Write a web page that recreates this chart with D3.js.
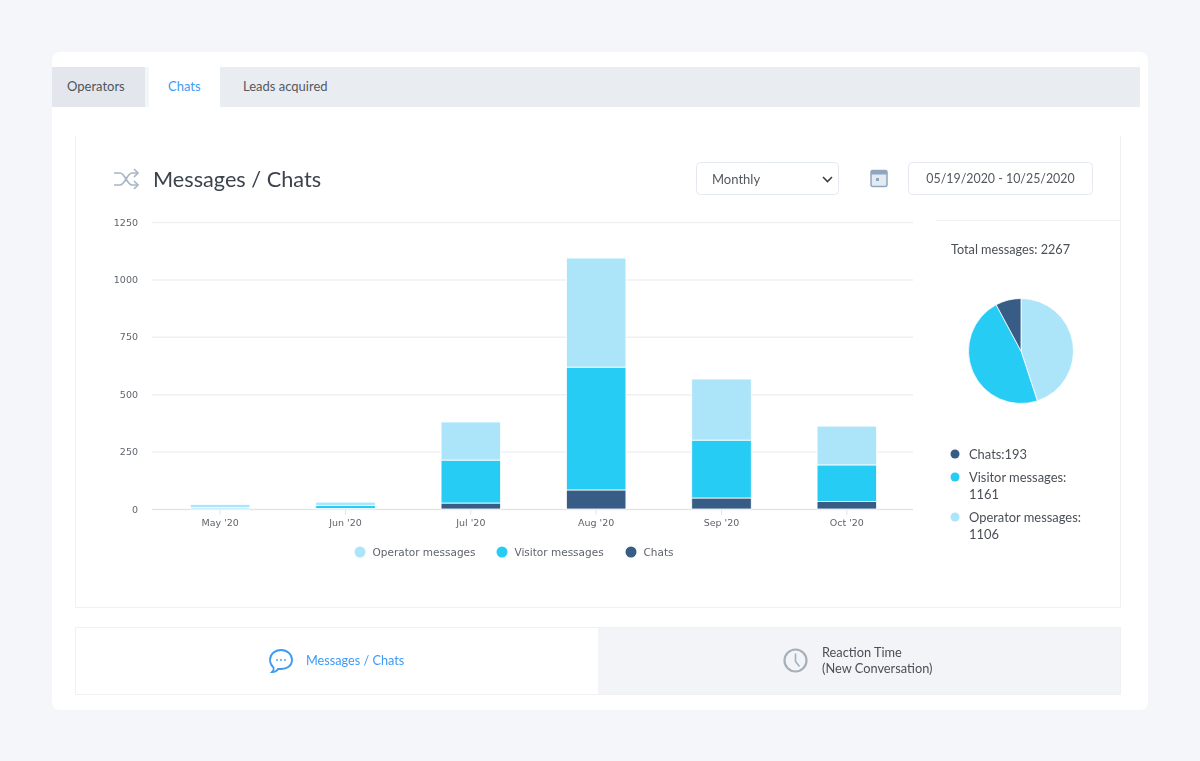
<!DOCTYPE html>
<html>
<head>
<meta charset="utf-8">
<script src="https://cdn.jsdelivr.net/npm/d3@7"></script>
<style>
  html, body { margin: 0; padding: 0; background: #f5f6f9; overflow: hidden; }
  svg { display: block; filter: blur(0.45px); }
  text { font-family: Lato, sans-serif; fill: #4a4f57; }
  .tick text { font-family: "DejaVu Sans", sans-serif; font-size: 9.5px; fill: #5f646c; }
  .chart-legend text { font-family: "DejaVu Sans", sans-serif; font-size: 10.5px; fill: #5f646c; }
  .domain { display: none; }
  .y-axis .tick line { stroke: #eef0f4; stroke-width: 1.5; }
  .x-axis .tick line { stroke: #dfe5f0; }
</style>
</head>
<body>
<svg id="chart" width="1200" height="761"></svg>
<script>
const months = ["May '20", "Jun '20", "Jul '20", "Aug '20", "Sep '20", "Oct '20"];
const chats = [1, 2, 26, 83, 48, 33];
const visitorMessages = [5, 14, 187, 535, 252, 159];
const operatorMessages = [14, 14, 166, 475, 266, 169];
const yTicks = [0, 250, 500, 750, 1000, 1250];

const seriesNames = ["Chats", "Visitor messages", "Operator messages"];
const seriesColors = ["#375c85", "#26ccf4", "#ace5fa"];
const chartLegendOrder = [2, 1, 0];
const pieTotals = [1106, 1161, 193];
const pieColors = ["#ace5fa", "#26ccf4", "#375c85"];

const svg = d3.select("#chart");
const blue = "#3d9bf5";

function box(x, y, w, h, fill, stroke, r) {
    return svg.append("rect").attr("x", x).attr("y", y).attr("width", w).attr("height", h)
        .attr("fill", fill).attr("stroke", stroke || "none").attr("rx", r || 0);
}
function label(x, y, str, size, color, anchor) {
    return svg.append("text").attr("x", x).attr("y", y).attr("dy", "0.35em").text(str)
        .style("font-size", size + "px").style("fill", color || "#4a4f57")
        .attr("text-anchor", anchor || "start");
}

// page card + tabs
box(52, 52, 1096, 658, "#fff", null, 8);
box(52, 67, 1088, 40, "#e9edf2");
box(52, 67, 93, 40, "#e3e7ed");
box(145, 67, 4, 40, "#f3f5f8");
box(149, 67, 71, 41, "#fff");
label(67, 86, "Operators", 13, "#4f545b");
label(168, 86, "Chats", 13, blue);
label(243, 86, "Leads acquired", 13, "#55595f");

// panel
svg.append("path").attr("d", "M75.5 136V607.5H1120.5V136").attr("fill", "none").attr("stroke", "#eff1f4");
svg.append("line").attr("x1", 936).attr("x2", 1121).attr("y1", 220.5).attr("y2", 220.5).attr("stroke", "#eff1f4");

// header
const shuffle = svg.append("g").attr("transform", "translate(114,171)")
    .attr("fill", "none").attr("stroke", "#aab6c4").attr("stroke-width", 1.7);
shuffle.append("path").attr("d", "M0 2H6C11 2 13 14 18 14H24M0 14H6C11 14 13 2 18 2H24");
shuffle.append("path").attr("d", "M20 -2L24 2L20 6M20 10L24 14L20 18");
label(153, 179, "Messages / Chats", 21.7, "#3d434b");

box(696.5, 162.5, 142, 32, "#fff", "#e4e9f1", 4);
label(712, 179, "Monthly", 13, "#54585f");
svg.append("path").attr("d", "M823 177L827.5 181.5L832 177").attr("fill", "none")
    .attr("stroke", "#3a3f46").attr("stroke-width", 1.6);

const cal = svg.append("g").attr("transform", "translate(871,169)");
cal.append("rect").attr("y", 1.5).attr("width", 16).attr("height", 16).attr("rx", 2)
    .attr("fill", "#e3eaf2").attr("stroke", "#8fa6bf").attr("stroke-width", 1.5);
cal.append("rect").attr("y", 1.5).attr("width", 16).attr("height", 4).attr("fill", "#8fa6bf");
cal.append("rect").attr("x", 5).attr("y", 9).attr("width", 3).attr("height", 3).attr("fill", "#8fa6bf");

box(908.5, 162.5, 184, 32, "#fff", "#e4e9f1", 4);
label(1000.5, 179, "05/19/2020 - 10/25/2020", 12.4, "#54585f", "middle");

// bars
const x = d3.scaleBand().domain(months).range([157.5, 909.5]).paddingInner(0.525).paddingOuter(0.2625);
const y = d3.scaleLinear().domain([0, 1250]).range([509, 222]);

svg.append("g").attr("class", "y-axis").attr("transform", "translate(152,0)")
    .call(d3.axisLeft(y).tickValues(yTicks).tickSize(-761).tickPadding(14).tickFormat(d3.format("d")));

svg.append("g").attr("class", "x-axis").attr("transform", "translate(0,509)")
    .call(d3.axisBottom(x).tickSize(6).tickPadding(4));
svg.append("line").attr("x1", 152).attr("x2", 913).attr("y1", 509.5).attr("y2", 509.5).attr("stroke", "#dce3f1");

const rows = months.map((m, i) => ({ month: m, 0: chats[i], 1: visitorMessages[i], 2: operatorMessages[i] }));
const stacked = d3.stack().keys([0, 1, 2])(rows);

svg.append("g").selectAll("g").data(stacked).join("g")
    .attr("fill", d => seriesColors[d.key])
    .selectAll("rect").data(d => d).join("rect")
    .attr("x", d => x(d.data.month))
    .attr("y", d => y(d[1]))
    .attr("width", x.bandwidth())
    .attr("height", d => y(d[0]) - y(d[1]))
    .attr("stroke", "#fff").attr("stroke-width", 0.8);

// chart legend
const legendX = [360, 502, 631];
const legend = svg.append("g").attr("class", "chart-legend").selectAll("g").data(chartLegendOrder).join("g")
    .attr("transform", (d, i) => `translate(${legendX[i]},552)`);
legend.append("circle").attr("r", 5.5).attr("fill", d => seriesColors[d]);
legend.append("text").attr("x", 12.5).attr("dy", "0.35em").text(d => seriesNames[d]);

// pie
label(951, 250, "Total messages: 2267", 12.7, "#4a4f57");
const arc = d3.arc().innerRadius(0).outerRadius(52.5);
svg.append("g").attr("transform", "translate(1021,351)")
    .selectAll("path").data(d3.pie().sort(null)(pieTotals)).join("path")
    .attr("d", arc).attr("fill", (d, i) => pieColors[i]).attr("stroke", "#fff").attr("stroke-width", 0.8);

const pieLegend = [
    { y: 454, color: 0, lines: ["Chats:" + pieTotals[2]] },
    { y: 477, color: 1, lines: ["Visitor messages:", pieTotals[1]] },
    { y: 517, color: 2, lines: ["Operator messages:", pieTotals[0]] }
];
pieLegend.forEach(d => {
    svg.append("circle").attr("cx", 955).attr("cy", d.y).attr("r", 4.5).attr("fill", seriesColors[d.color]);
    d.lines.forEach((line, i) => label(969, d.y + i * 17, line, 12.9, "#4a4f57"));
});

// bottom tabs
box(75.5, 627.5, 1045, 67, "#fff", "#eff1f4");
box(598, 628, 522, 66, "#f3f4f8");

const bubble = svg.append("g").attr("transform", "translate(270,650)").attr("fill", "none").attr("stroke", blue).attr("stroke-width", 1.8);
bubble.append("path").attr("d", "M11 0C17 0 22 4 22 10C22 16 17 19 11 19C10 19 9 19 8 19C7 21 4 22 2 22C4 20 4 18 3 17C1 15 0 13 0 10C0 4 5 0 11 0Z");
[7, 11, 15].forEach(cx => svg.append("circle").attr("cx", 270 + cx).attr("cy", 660).attr("r", 0.9).attr("fill", blue));
label(306, 661, "Messages / Chats", 12.7, blue);

const clock = svg.append("g").attr("transform", "translate(795.5,660.5)").attr("fill", "none").attr("stroke", "#a5b0bb").attr("stroke-width", 2.2);
clock.append("circle").attr("r", 11);
clock.append("path").attr("d", "M0 -7V1L4 6").attr("stroke-width", 1.6);
label(822, 653, "Reaction Time", 12.8, "#4a4f57");
label(822, 669, "(New Conversation)", 12.8, "#4a4f57");
</script>
</body>
</html>
